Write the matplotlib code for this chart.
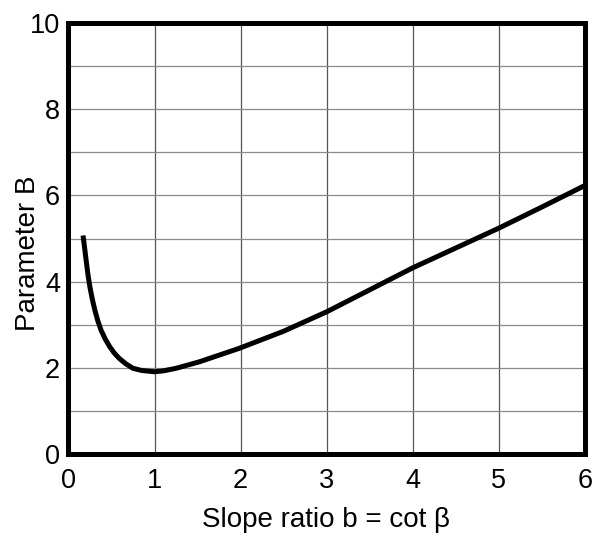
import matplotlib
matplotlib.use("Agg")
import matplotlib.pyplot as plt
from matplotlib.ticker import MultipleLocator

plt.rcParams['font.family'] = ['Liberation Sans', 'DejaVu Sans']

# values
slope_ratio = [0.17, 0.19, 0.206, 0.23, 0.25, 0.28, 0.307, 0.34, 0.38, 0.43, 0.48, 0.53,
               0.59, 0.67, 0.75, 0.85, 1.0, 1.1, 1.25, 1.52, 1.98,
               2.5, 3.0, 3.5, 4.0, 4.5, 5.0, 5.5, 6.0]
param_b = [5.07, 4.75, 4.49, 4.12, 3.87, 3.57, 3.34, 3.10, 2.87, 2.66, 2.49, 2.35,
           2.22, 2.09, 1.99, 1.94, 1.91, 1.93, 1.99, 2.14, 2.45,
           2.85, 3.30, 3.81, 4.32, 4.78, 5.24, 5.73, 6.23]

fig = plt.figure(figsize=(5.95, 5.33), dpi=100)
ax = fig.add_axes([0.115, 0.148, 0.868, 0.809])

ax.plot(slope_ratio, param_b, color='black', lw=3.6, solid_capstyle='butt',
        solid_joinstyle='round', zorder=3)

ax.set_xlim(0, 6)
ax.set_ylim(0, 10)
ax.xaxis.set_major_locator(MultipleLocator(1))
ax.yaxis.set_major_locator(MultipleLocator(2))
ax.yaxis.set_minor_locator(MultipleLocator(1))
# vertical grid a bit darker than horizontal, as in the source
ax.xaxis.grid(True, which='major', color='#555555', lw=0.9)
ax.yaxis.grid(True, which='both', color='#8a8a8a', lw=0.9)
ax.tick_params(which='both', length=0, labelsize=19.5)
ax.tick_params(axis='y', pad=6)
ax.tick_params(axis='x', pad=10)

for s in ax.spines.values():
    s.set_linewidth(3.6)

fig.text(326 / 595, 1 - 527 / 533, 'Slope ratio b = cot β', fontsize=20,
         ha='center', va='baseline')
fig.text(28 / 595, 1 - 253 / 533, 'Parameter B', fontsize=20, rotation=90,
         ha='center', va='center')

fig.savefig('out.png', dpi=100)
